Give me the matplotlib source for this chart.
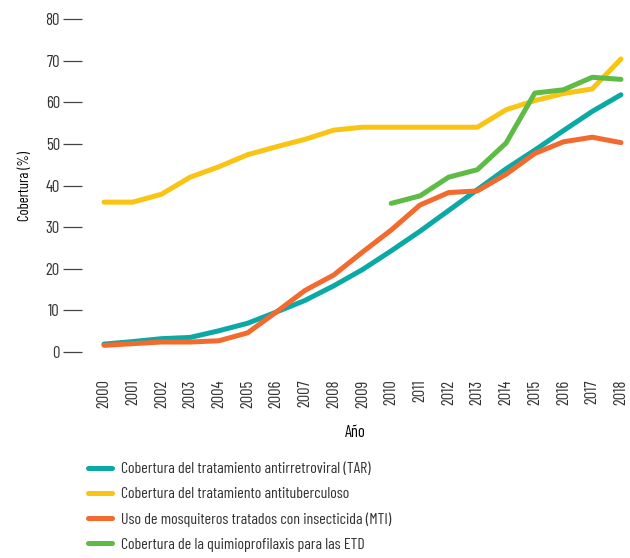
"""
Coverage of treatments over time (TAR, TB, MTI, ETD)
"""
import numpy as np
import matplotlib
matplotlib.use('Agg')
import matplotlib.pyplot as plt

years = list(range(2000, 2019))

tar = [1.9, 2.5, 3.2, 3.5, 5.1, 6.9, 9.6, 12.4, 15.9, 19.8, 24.3, 29.0, 34.0, 39.0, 44.0, 48.5, 53.2, 57.8, 61.8]
tb = [36.0, 36.0, 37.9, 42.0, 44.5, 47.4, 49.3, 51.1, 53.3, 54.0, 54.0, 54.0, 54.0, 54.0, 58.2, 60.4, 62.1, 63.2, 70.4]
mti = [1.6, 2.0, 2.4, 2.4, 2.7, 4.6, 9.6, 14.8, 18.5, 24.0, 29.3, 35.3, 38.3, 38.7, 42.7, 47.7, 50.5, 51.6, 50.3]
etd_years = list(range(2010, 2019))
etd = [35.7, 37.5, 42.0, 43.8, 50.2, 62.2, 63.0, 66.0, 65.5]

labels = [
    'Cobertura del tratamiento antirretroviral (TAR)',
    'Cobertura del tratamiento antituberculoso',
    'Uso de mosquiteros tratados con insecticida (MTI)',
    'Cobertura de la quimioprofilaxis para las ETD',
]
colors = ['#0aa9a6', '#f9c413', '#f26a2e', '#5dbb46']

plt.rcParams['font.family'] = ['Barlow Condensed', 'DejaVu Sans']
plt.rcParams['text.color'] = '#333333'
plt.rcParams['xtick.color'] = '#333333'
plt.rcParams['ytick.color'] = '#333333'

fs = 12

fig = plt.figure(figsize=(6.3, 5.58), dpi=100)
ax = fig.add_axes([82 / 630, (558 - 360) / 558, 546 / 630, 348 / 558])

lw = 3.6
lines = []
lines.append(ax.plot(years, tar, color=colors[0], lw=lw, solid_capstyle='round', solid_joinstyle='round')[0])
lines.append(ax.plot(years, tb, color=colors[1], lw=lw, solid_capstyle='round', solid_joinstyle='round')[0])
lines.append(ax.plot(years, mti, color=colors[2], lw=lw, solid_capstyle='round', solid_joinstyle='round')[0])
lines.append(ax.plot(etd_years, etd, color=colors[3], lw=lw, solid_capstyle='round', solid_joinstyle='round')[0])

px = 28.72  # pixels per year
ax.set_xlim(2000 - 22 / px, 2000 + (628 - 104) / px)
ax.set_ylim(-8 / 4.1625, 80 + 7 / 4.1625)

ax.set_xticks(years)
ax.set_xticklabels([str(y) for y in years], rotation=90, fontsize=fs)
ax.tick_params(axis='x', length=0, pad=14)
ax.set_yticks(range(0, 81, 10))
ax.tick_params(axis='y', direction='out', length=14, width=0.9, color='#444444',
               labelsize=fs, pad=2)

for s in ax.spines.values():
    s.set_visible(False)

ax.set_xlabel('Año', fontsize=fs, labelpad=12)
ax.set_ylabel('Cobertura (%)', fontsize=10.5, labelpad=10)

fig.legend(lines, labels, loc='upper left', bbox_to_anchor=(80 / 630, 1 - 454 / 558),
           frameon=False, fontsize=11.5, handlelength=1.5, handletextpad=0.55,
           labelspacing=0.68, borderpad=0)

fig.savefig('out.png', dpi=100)
plt.close()
